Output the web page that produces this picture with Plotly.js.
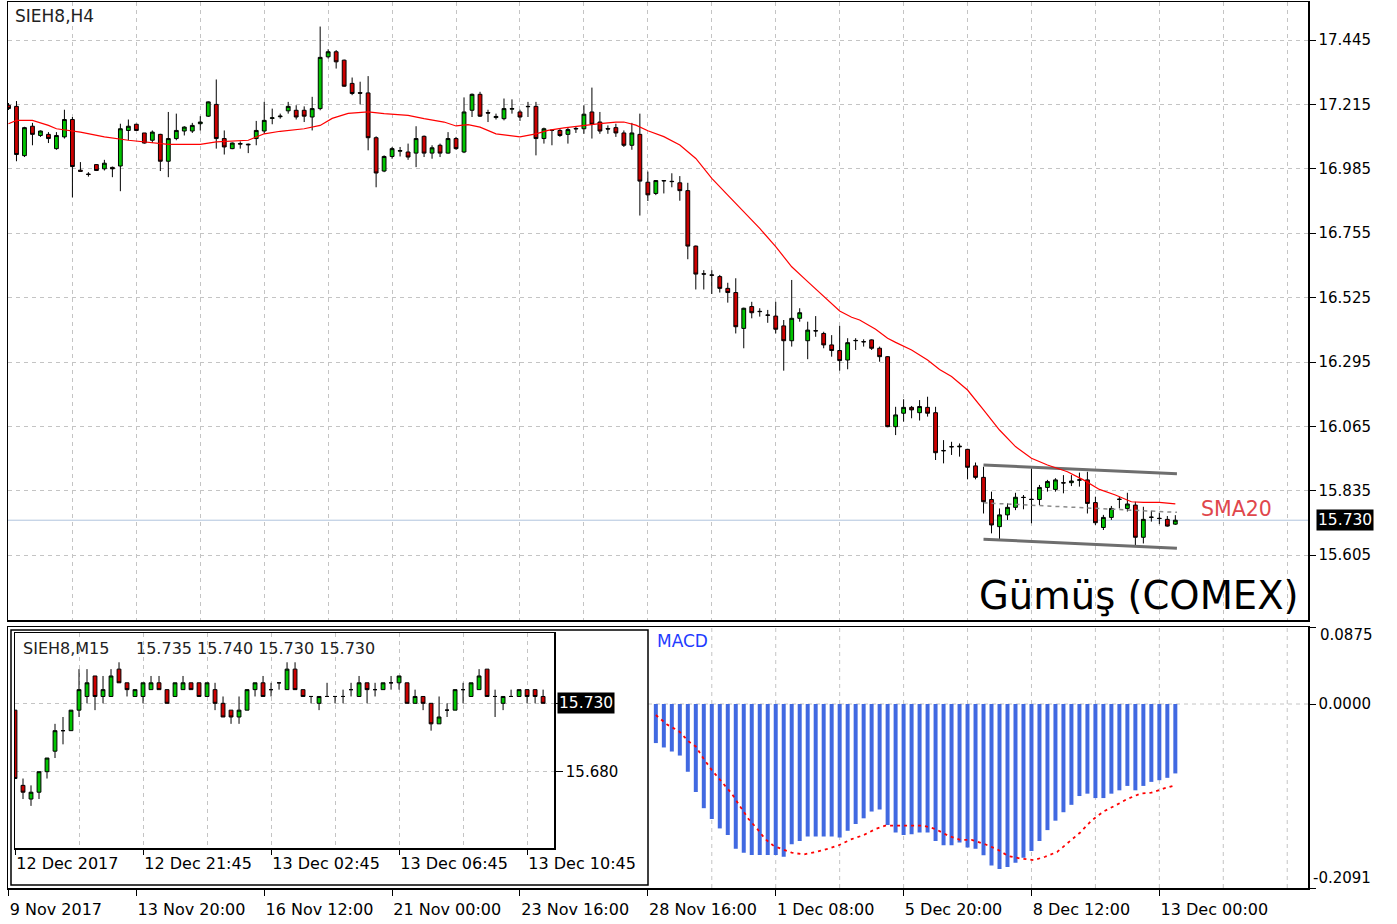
<!DOCTYPE html>
<html><head><meta charset="utf-8">
<script src="https://cdn.plot.ly/plotly-3.0.1.min.js"></script>
<style>html,body{margin:0;padding:0;background:#fff;}#chart{width:1397px;height:924px;}</style>
</head><body><div id="chart"></div>
<script>
// ---------- H4 candles (SIEH8,H4) ----------
const h4Open = [17.212,17.208,17.032,17.137,17.104,17.108,17.057,17.099,17.161,16.980,16.966,17.000,16.985,16.990,16.995,17.122,17.144,17.113,17.087,17.108,17.012,17.093,17.120,17.120,17.146,17.173,17.215,17.093,17.057,17.073,17.073,17.093,17.120,17.165,17.171,17.192,17.194,17.194,17.170,17.200,17.385,17.403,17.373,17.290,17.257,17.256,17.096,16.977,17.029,17.048,17.045,17.041,17.101,17.041,17.069,17.041,17.093,17.045,17.194,17.251,17.186,17.168,17.164,17.198,17.188,17.208,17.208,17.093,17.123,17.122,17.108,17.127,17.128,17.188,17.152,17.129,17.132,17.113,17.069,17.108,16.937,16.897,16.943,16.939,16.935,16.907,16.709,16.610,16.606,16.600,16.558,16.543,16.415,16.493,16.476,16.463,16.459,16.424,16.371,16.451,16.371,16.407,16.397,16.356,16.336,16.302,16.371,16.368,16.374,16.344,16.314,16.064,16.112,16.133,16.114,16.133,16.114,15.979,15.993,15.992,15.983,15.924,15.883,15.804,15.707,15.749,15.776,15.812,15.805,15.804,15.847,15.840,15.864,15.864,15.873,15.874,15.793,15.704,15.740,15.804,15.772,15.784,15.669,15.740,15.737,15.733,15.716];
const h4High = [17.220,17.227,17.135,17.149,17.122,17.116,17.116,17.196,17.170,17.009,16.973,17.002,17.017,16.993,17.146,17.161,17.146,17.113,17.122,17.110,17.188,17.182,17.137,17.149,17.173,17.226,17.304,17.122,17.079,17.083,17.075,17.156,17.224,17.200,17.182,17.224,17.212,17.208,17.242,17.493,17.412,17.409,17.375,17.311,17.296,17.316,17.101,17.033,17.063,17.063,17.075,17.137,17.104,17.069,17.075,17.116,17.099,17.240,17.254,17.260,17.196,17.182,17.236,17.233,17.196,17.224,17.224,17.132,17.124,17.128,17.134,17.137,17.212,17.275,17.188,17.140,17.146,17.122,17.149,17.182,16.975,16.945,16.945,16.969,16.959,16.935,16.711,16.623,16.623,16.606,16.578,16.594,16.489,16.510,16.487,16.481,16.510,16.445,16.588,16.487,16.439,16.459,16.403,16.391,16.424,16.380,16.380,16.376,16.376,16.350,16.316,16.135,16.162,16.138,16.159,16.171,16.135,16.016,16.010,16.004,15.985,15.936,15.921,15.832,15.772,15.790,15.828,15.820,15.915,15.856,15.874,15.880,15.891,15.891,15.900,15.903,15.814,15.749,15.781,15.814,15.828,15.796,15.778,15.764,15.757,15.745,15.748];
const h4Low = [17.195,17.012,17.027,17.069,17.099,17.077,17.053,17.093,16.883,16.975,16.957,16.977,16.979,16.955,16.905,17.087,17.120,17.075,17.077,16.977,16.955,17.087,17.104,17.113,17.122,17.170,17.057,17.036,17.055,17.057,17.041,17.069,17.110,17.144,17.164,17.182,17.161,17.152,17.122,17.194,17.379,17.343,17.278,17.248,17.215,17.051,16.919,16.973,17.021,17.029,17.017,16.991,17.027,17.021,17.027,17.039,17.053,17.041,17.170,17.170,17.152,17.161,17.158,17.182,17.156,17.170,17.033,17.075,17.069,17.099,17.075,17.113,17.110,17.093,17.110,17.110,17.099,17.063,17.053,16.818,16.870,16.891,16.897,16.919,16.871,16.662,16.554,16.554,16.538,16.543,16.507,16.397,16.344,16.451,16.457,16.435,16.397,16.264,16.350,16.439,16.305,16.385,16.344,16.314,16.264,16.269,16.338,16.350,16.338,16.296,16.062,16.034,16.082,16.094,16.086,16.100,15.945,15.933,15.963,15.957,15.876,15.876,15.754,15.683,15.659,15.731,15.766,15.769,15.719,15.784,15.832,15.832,15.826,15.852,15.850,15.754,15.713,15.695,15.731,15.772,15.761,15.635,15.647,15.725,15.716,15.707,15.713];
const h4Close = [17.200,17.036,17.132,17.108,17.120,17.093,17.104,17.161,16.993,16.976,16.965,16.979,17.005,16.985,17.128,17.137,17.122,17.077,17.116,17.012,17.093,17.122,17.134,17.140,17.152,17.224,17.093,17.063,17.077,17.075,17.071,17.122,17.158,17.167,17.173,17.208,17.170,17.173,17.200,17.383,17.403,17.367,17.280,17.254,17.255,17.096,16.970,17.029,17.057,17.050,17.027,17.093,17.041,17.060,17.041,17.093,17.057,17.188,17.251,17.173,17.184,17.172,17.200,17.200,17.170,17.207,17.093,17.128,17.122,17.104,17.125,17.129,17.180,17.144,17.120,17.127,17.113,17.069,17.113,16.941,16.892,16.943,16.942,16.940,16.907,16.709,16.609,16.609,16.605,16.558,16.543,16.421,16.487,16.471,16.475,16.462,16.412,16.371,16.451,16.471,16.409,16.406,16.356,16.336,16.300,16.364,16.372,16.367,16.344,16.314,16.064,16.106,16.133,16.124,16.136,16.112,15.971,15.978,15.992,15.994,15.919,15.883,15.796,15.713,15.749,15.776,15.812,15.811,15.804,15.847,15.868,15.874,15.863,15.870,15.874,15.790,15.721,15.740,15.772,15.805,15.788,15.669,15.733,15.741,15.736,15.709,15.730];

// SMA20 (bar index, price)
const smaX = [0,1,3,5,6,9,12,15,20,24,26,30,32,34,37,39,40.5,42.5,45,47,50,52,54.5,56,57.5,59,61,63,64,66,67.5,69.5,72,74,76,77,78.5,80,82,84,86,88,90,92,94,96,98,100,102,104,105.5,106.5,108.5,110,111,113,115,116.5,118,120,122,124,126,128,130,132.5,134.5,136.5,138.5,140.5,142,144,146];
const smaY = [17.146,17.158,17.158,17.140,17.128,17.116,17.099,17.087,17.072,17.072,17.081,17.087,17.110,17.119,17.128,17.140,17.165,17.183,17.188,17.182,17.176,17.164,17.152,17.138,17.143,17.134,17.110,17.101,17.099,17.110,17.122,17.131,17.138,17.146,17.152,17.152,17.141,17.121,17.100,17.070,17.022,16.951,16.891,16.832,16.772,16.707,16.635,16.582,16.528,16.477,16.455,16.445,16.412,16.380,16.365,16.338,16.302,16.268,16.243,16.195,16.124,16.052,15.993,15.951,15.927,15.903,15.874,15.840,15.820,15.796,15.794,15.794,15.788];

// channel drawn on the H4 chart
const channelX = [122, 146.2];
const channelUpper = [15.927, 15.896];
const channelLower = [15.662, 15.630];
const channelMid = [15.792, 15.758];
const currentPrice = 15.730;

const priceTicks = [17.445, 17.215, 16.985, 16.755, 16.525, 16.295, 16.065, 15.835, 15.605];
const dateTickIdx = [0,16,32,48,64,80,96,112,128,144];
const dateTickText = ['9 Nov 2017','13 Nov 20:00','16 Nov 12:00','21 Nov 00:00','23 Nov 16:00','28 Nov 16:00','1 Dec 08:00','5 Dec 20:00','8 Dec 12:00','13 Dec 00:00'];

// ---------- MACD ----------
const macdStart = 81;
const macdHist = [-0.0444,-0.0494,-0.0540,-0.0586,-0.0770,-0.1000,-0.1184,-0.1307,-0.1414,-0.1490,-0.1644,-0.1690,-0.1716,-0.1716,-0.1716,-0.1716,-0.1736,-0.1594,-0.1556,-0.1506,-0.1506,-0.1506,-0.1506,-0.1517,-0.1441,-0.1364,-0.1299,-0.1222,-0.1199,-0.1375,-0.1460,-0.1490,-0.1479,-0.1460,-0.1460,-0.1556,-0.1605,-0.1605,-0.1575,-0.1632,-0.1644,-0.1720,-0.1835,-0.1874,-0.1851,-0.1805,-0.1747,-0.1670,-0.1556,-0.1433,-0.1326,-0.1230,-0.1146,-0.1046,-0.1019,-0.1069,-0.1069,-0.1019,-0.0981,-0.0931,-0.0981,-0.0931,-0.0885,-0.0866,-0.0839,-0.0789];
const signalX = [81,82.4,83.9,85.1,86,86.8,88,89.3,90.5,91.6,92.6,93.7,94.7,95.75,96.8,98,99.5,101,102.6,103.9,105.5,107,108.5,109.7,111.4,113,114.5,116,117.6,119.1,120.5,122.2,123.7,125.1,126.6,128.3,129.7,131.2,132.6,134.1,135.5,137,138.5,139.9,141.6,143,144.5,146];
const signalY = [-0.0125,-0.0233,-0.0310,-0.0425,-0.0483,-0.0598,-0.0751,-0.0885,-0.1019,-0.1172,-0.1307,-0.1421,-0.1536,-0.1613,-0.1651,-0.1690,-0.1709,-0.1682,-0.1644,-0.1605,-0.1536,-0.1490,-0.1421,-0.1383,-0.1383,-0.1383,-0.1383,-0.1421,-0.1498,-0.1544,-0.1544,-0.1594,-0.1651,-0.1728,-0.1755,-0.1774,-0.1736,-0.1682,-0.1575,-0.1460,-0.1326,-0.1222,-0.1153,-0.1084,-0.1019,-0.1008,-0.0962,-0.0923];
const macdMax = 0.0875, macdMin = -0.2091;

// ---------- M15 inset (SIEH8,M15) ----------
const m15Start = -1;
const m15Open = [15.725,15.670,15.660,15.665,15.680,15.695,15.710,15.710,15.725,15.735,15.750,15.735,15.735,15.755,15.745,15.735,15.735,15.740,15.745,15.740,15.735,15.740,15.745,15.745,15.735,15.740,15.730,15.725,15.720,15.725,15.740,15.745,15.740,15.745,15.740,15.755,15.740,15.735,15.730,15.735,15.735,15.735,15.740,15.735,15.745,15.740,15.740,15.745,15.745,15.745,15.730,15.735,15.730,15.715,15.725,15.725,15.740,15.735,15.740,15.755,15.735,15.730,15.735,15.735,15.740,15.740,15.735];
const m15High = [15.725,15.675,15.670,15.680,15.690,15.715,15.720,15.725,15.755,15.755,15.750,15.750,15.755,15.760,15.745,15.740,15.745,15.750,15.750,15.740,15.745,15.750,15.745,15.745,15.745,15.745,15.735,15.725,15.735,15.740,15.745,15.750,15.745,15.745,15.760,15.760,15.740,15.735,15.735,15.745,15.735,15.740,15.745,15.750,15.745,15.745,15.745,15.750,15.750,15.745,15.740,15.735,15.730,15.735,15.730,15.740,15.745,15.745,15.755,15.755,15.740,15.735,15.740,15.740,15.740,15.740,15.740];
const m15Low = [15.675,15.660,15.655,15.660,15.675,15.690,15.700,15.710,15.720,15.730,15.725,15.730,15.735,15.745,15.735,15.735,15.730,15.740,15.740,15.730,15.735,15.740,15.740,15.735,15.735,15.725,15.720,15.715,15.715,15.725,15.735,15.735,15.735,15.740,15.740,15.740,15.735,15.730,15.725,15.735,15.730,15.730,15.735,15.735,15.730,15.735,15.740,15.740,15.740,15.730,15.730,15.725,15.710,15.715,15.720,15.725,15.730,15.735,15.740,15.735,15.720,15.725,15.735,15.735,15.730,15.730,15.730];
const m15Close = [15.675,15.665,15.665,15.680,15.690,15.710,15.710,15.725,15.740,15.745,15.735,15.740,15.750,15.745,15.740,15.740,15.745,15.745,15.740,15.730,15.745,15.745,15.740,15.735,15.745,15.730,15.720,15.720,15.725,15.740,15.745,15.735,15.740,15.745,15.755,15.740,15.735,15.735,15.735,15.735,15.735,15.735,15.740,15.745,15.740,15.740,15.745,15.745,15.750,15.730,15.735,15.730,15.715,15.720,15.725,15.740,15.740,15.745,15.750,15.735,15.735,15.735,15.735,15.740,15.735,15.735,15.730];
const m15TickIdx = [-1,15,31,47,63];
const m15TickText = ['12 Dec 2017','12 Dec 21:45','13 Dec 02:45','13 Dec 06:45','13 Dec 10:45'];
const m15PriceTicks = [15.680, 15.730];
const m15Header = 'SIEH8,M15';
const m15Ohlc = '15.735 15.740 15.730 15.730';

// ---------- geometry helpers ----------
const W = 1397, H = 924, ML = 8, MR = 89, MT = 2, MB = 36;
const PW = W - ML - MR, PH = H - MT - MB;
const px = v => (v - ML) / PW;
const py = v => 1 - (v - MT) / PH;

const GRID = '#c4c4c4', DASH = '4px,4px';
const GREEN = '#00c400', RED = '#cc0000';

const h4X = h4Open.map((_, i) => i);
const m15X = m15Open.map((_, i) => m15Start + i);
const macdX = macdHist.map((_, i) => macdStart + i);

const traces = [
  {type:'scatter', mode:'lines', x:channelX, y:channelUpper, xaxis:'x', yaxis:'y', line:{color:'#6e6e6e', width:3}, hoverinfo:'skip'},
  {type:'scatter', mode:'lines', x:channelX, y:channelLower, xaxis:'x', yaxis:'y', line:{color:'#6e6e6e', width:3}, hoverinfo:'skip'},
  {type:'scatter', mode:'lines', x:channelX, y:channelMid, xaxis:'x', yaxis:'y', line:{color:'#8a8a8a', width:1.5, dash:'4px,4px'}, hoverinfo:'skip'},
  {type:'candlestick', x:h4X, open:h4Open, high:h4High, low:h4Low, close:h4Close, xaxis:'x', yaxis:'y',
   increasing:{line:{color:'#000', width:1}, fillcolor:GREEN}, decreasing:{line:{color:'#000', width:1}, fillcolor:RED}, whiskerwidth:0},
  {type:'scatter', mode:'lines', x:smaX, y:smaY, xaxis:'x', yaxis:'y', line:{color:'#ff0000', width:1.2}, hoverinfo:'skip'},
  {type:'bar', x:macdX, y:macdHist, xaxis:'x2', yaxis:'y2', width:0.5, marker:{color:'#4169e1', line:{width:0}}},
  {type:'scatter', mode:'lines', x:signalX, y:signalY, xaxis:'x2', yaxis:'y2', line:{color:'#ff0000', width:1.8, dash:'3px,4px'}},
  {type:'candlestick', x:m15X, open:m15Open, high:m15High, low:m15Low, close:m15Close, xaxis:'x3', yaxis:'y3',
   increasing:{line:{color:'#000', width:1}, fillcolor:GREEN}, decreasing:{line:{color:'#000', width:1}, fillcolor:RED}, whiskerwidth:0}
];

const gridK = [];
for (let g = 0; g <= 160; g += 8) gridK.push(g);
const shapes = [
  {type:'line', xref:'x domain', x0:0, x1:1, yref:'y', y0:currentPrice, y1:currentPrice, line:{color:'#b0c4de', width:1}, layer:'below'},
  {type:'line', xref:'x3 domain', x0:0, x1:1, yref:'y3', y0:currentPrice, y1:currentPrice, line:{color:'#b0c4de', width:1}, layer:'below'},
  {type:'line', xref:'paper', x0:px(648), x1:1, yref:'y2', y0:0, y1:0, line:{color:GRID, width:1, dash:DASH}, layer:'below'},
  {type:'rect', xref:'paper', yref:'paper', x0:px(11), x1:px(648), y0:py(885), y1:py(630), line:{color:'#000', width:1.5}, fillcolor:'rgba(0,0,0,0)', layer:'above'}
];
gridK.filter(g => g > 81).forEach(g => shapes.push({type:'line', xref:'x2', x0:g, x1:g, yref:'y2 domain', y0:0, y1:1, line:{color:GRID, width:1, dash:DASH}, layer:'below'}));

const FONT = 'DejaVu Sans';
const annotations = [
  {text:'SIEH8,H4', xref:'paper', yref:'paper', x:px(13), y:py(16), xanchor:'left', yanchor:'middle', showarrow:false, font:{size:17, color:'#222'}},
  {text:'Gümüş (COMEX)', xref:'paper', yref:'paper', x:px(1301), y:py(595), xanchor:'right', yanchor:'middle', showarrow:false, font:{size:38.5, color:'#000'}},
  {text:'SMA20', xref:'paper', yref:'paper', x:px(1199), y:py(509), xanchor:'left', yanchor:'middle', showarrow:false, font:{size:20.5, color:'#e0474c'}},
  {text:currentPrice.toFixed(3), xref:'paper', yref:'y', x:px(1316), y:currentPrice, xanchor:'left', yanchor:'middle', showarrow:false, bgcolor:'#000', borderpad:1, font:{size:15.5, color:'#fff'}},
  {text:'MACD', xref:'paper', yref:'paper', x:px(655), y:py(641), xanchor:'left', yanchor:'middle', showarrow:false, font:{size:17, color:'#1f3cff'}},
  {text:macdMax.toFixed(4), xref:'paper', yref:'paper', x:px(1318), y:py(635), xanchor:'left', yanchor:'middle', showarrow:false, font:{size:15, color:'#000'}},
  {text:macdMin.toFixed(4), xref:'paper', yref:'paper', x:px(1311), y:py(878), xanchor:'left', yanchor:'middle', showarrow:false, font:{size:15, color:'#000'}},
  {text:m15Header, xref:'paper', yref:'paper', x:px(21), y:py(648), xanchor:'left', yanchor:'middle', showarrow:false, font:{size:16, color:'#222'}},
  {text:m15Ohlc, xref:'paper', yref:'paper', x:px(134), y:py(648), xanchor:'left', yanchor:'middle', showarrow:false, font:{size:16, color:'#222'}},
  {text:currentPrice.toFixed(3), xref:'paper', yref:'y3', x:px(557), y:currentPrice, xanchor:'left', yanchor:'middle', showarrow:false, bgcolor:'#000', borderpad:1, font:{size:15.5, color:'#fff'}}
];

const axLine = {showline:true, linecolor:'#000', linewidth:1.5, mirror:true, zeroline:false};
const XR = [-0.06, 162.6];
const layout = {
  width:W, height:H, margin:{l:ML, r:MR, t:MT, b:MB},
  paper_bgcolor:'#fff', plot_bgcolor:'#fff',
  font:{family:FONT, size:15, color:'#000'},
  showlegend:false, hovermode:false, dragmode:false,
  boxgap:0.32,
  xaxis:Object.assign({domain:[0,1], anchor:'y', range:XR, tickmode:'array', tickvals:gridK, showticklabels:false, ticks:'',
    showgrid:true, gridcolor:GRID, griddash:DASH, gridwidth:1, rangeslider:{visible:false}}, axLine),
  yaxis:Object.assign({domain:[py(620),1], anchor:'x', side:'right', range:[15.3736,17.5807], tickmode:'array', tickvals:priceTicks,
    ticktext:priceTicks.map(v=>v.toFixed(3)), ticks:'outside', ticklen:6, tickcolor:'#000', showgrid:true, gridcolor:GRID, griddash:DASH}, axLine),
  xaxis2:Object.assign({domain:[0,1], anchor:'y2', matches:'x', range:XR, tickmode:'array', tickvals:dateTickIdx, ticktext:dateTickText,
    ticks:'outside', ticklen:6, tickcolor:'#000', ticklabelposition:'outside right', ticklabelstandoff:6, tickfont:{size:16}, showgrid:false, rangeslider:{visible:false}}, axLine),
  yaxis2:Object.assign({domain:[0,py(627)], anchor:'x2', side:'right', range:[macdMin,macdMax], tickmode:'array', tickvals:[macdMax,0,macdMin],
    ticktext:['','0.0000',''], ticks:'outside', ticklen:6, tickcolor:'#000', showgrid:false}, axLine),
  xaxis3:Object.assign({domain:[px(15),px(554.3)], anchor:'y3', range:[-1,66.4], tickmode:'array', tickvals:m15TickIdx, ticktext:m15TickText,
    ticks:'outside', ticklen:5, tickcolor:'#000', ticklabelposition:'outside right', tickfont:{size:16}, showgrid:false,
    minor:{tickmode:'linear', tick0:-1, dtick:8, showgrid:true, gridcolor:GRID, griddash:DASH, ticks:''}, rangeslider:{visible:false}}, axLine),
  yaxis3:Object.assign({domain:[py(848),py(633.3)], anchor:'x3', side:'right', range:[15.6242,15.7812], tickmode:'array', tickvals:m15PriceTicks,
    ticktext:['15.680',''], ticks:'outside', ticklen:7, tickcolor:'#000', showgrid:true, gridcolor:GRID, griddash:DASH}, axLine),
  shapes:shapes,
  annotations:annotations
};

Plotly.newPlot('chart', traces, layout, {staticPlot:true, displayModeBar:false});
</script>
</body></html>
